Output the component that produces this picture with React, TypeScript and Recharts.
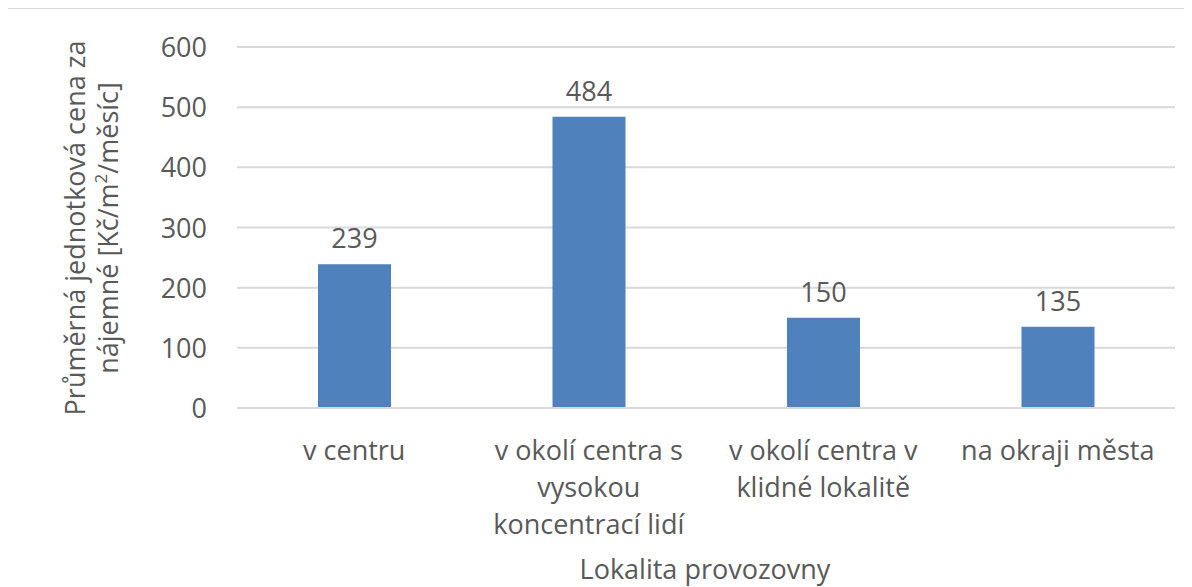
import { BarChart, Bar, XAxis, YAxis, CartesianGrid, LabelList } from "recharts"

const categories = [
  "v centru",
  "v okolí centra s vysokou koncentrací lidí",
  "v okolí centra v klidné lokalitě",
  "na okraji města",
]
const prices = [239, 484, 150, 135]
const tickLines = [
  ["v centru"],
  ["v okolí centra s", "vysokou", "koncentrací lidí"],
  ["v okolí centra v", "klidné lokalitě"],
  ["na okraji města"],
]
const yTicks = [0, 100, 200, 300, 400, 500, 600]

const data = categories.map((name, i) => ({ name, value: prices[i] }))

const FONT = "'Open Sans', sans-serif"
const TEXT = "#595959"

const XTick = (props: any) => {
  const { x, y, payload } = props
  const lines = tickLines[categories.indexOf(payload.value)] || [payload.value]
  return (
    <text x={x} y={y} textAnchor="middle" fill={TEXT} fontSize={27} fontFamily={FONT}>
      {lines.map((l, i) => (
        <tspan key={i} x={x} dy={i === 0 ? 44 : 37}>
          {l}
        </tspan>
      ))}
    </text>
  )
}

const YTick = (props: any) => {
  const { y, payload } = props
  return (
    <text x={199} y={y} dy={10} textAnchor="end" fill={TEXT} fontSize={27} fontFamily={FONT}>
      {payload.value}
    </text>
  )
}

const YTitle = () => (
  <text
    transform="translate(83,220) rotate(-90)"
    textAnchor="middle"
    fill={TEXT}
    fontSize={27}
    fontFamily={FONT}
  >
    <tspan x={0} dy={-6}>Průměrná jednotková cena za</tspan>
    <tspan x={0} dy={33}>
      nájemné [Kč/m<tspan baseline-shift="super" fontSize={17}>2</tspan>/měsíc]
    </tspan>
  </text>
)

const XTitle = () => (
  <text x={697} y={571} textAnchor="middle" fill={TEXT} fontSize={27} fontFamily={FONT}>
    Lokalita provozovny
  </text>
)

export default function App() {
  return (
    <div style={{ position: "relative", left: -1, width: 1185, height: 579, overflow: "hidden" }}>
      <div
        style={{
          position: "absolute",
          left: 0,
          top: 0,
          width: 1220,
          height: 620,
          border: "1px solid #d9d9d9",
          boxSizing: "border-box",
        }}
      />
      <BarChart
        width={1184}
        height={579}
        data={data}
        margin={{ top: 39, right: 17, left: 0, bottom: 0 }}
        style={{ position: "absolute", left: 1, top: 0 }}
      >
        <CartesianGrid vertical={false} stroke="#d9d9d9" strokeWidth={2} />
        <XAxis
          dataKey="name"
          height={179}
          tickLine={false}
          axisLine={{ stroke: "#d9d9d9", strokeWidth: 2 }}
          tick={<XTick />}
          interval={0}
          label={<XTitle />}
        />
        <YAxis
          width={229}
          domain={[0, 600]}
          ticks={yTicks}
          tickLine={false}
          axisLine={false}
          tick={<YTick />}
          label={<YTitle />}
        />
        <Bar dataKey="value" fill="#4f81bd" barSize={73} isAnimationActive={false}>
          <LabelList
            dataKey="value"
            position="top"
            offset={16}
            fill={TEXT}
            fontSize={27}
            fontFamily={FONT}
          />
        </Bar>
      </BarChart>
    </div>
  )
}
